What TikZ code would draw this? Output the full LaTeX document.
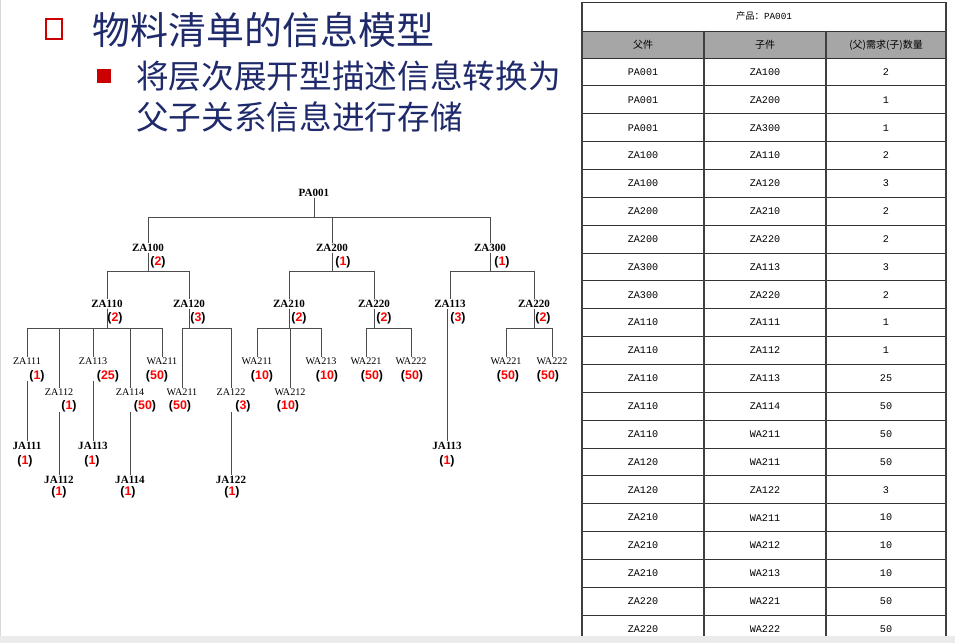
\documentclass[tikz,border=0pt]{standalone}
\usepackage{fontspec}
\setmainfont{Liberation Serif}
\setsansfont{Liberation Sans}
\setmonofont{Liberation Mono}
\newfontfamily\cjk{Noto Sans CJK SC}
\definecolor{navy}{HTML}{1F2A6B}
\definecolor{bomred}{HTML}{CC0000}
\definecolor{hdrgray}{HTML}{A6A6A6}
\begin{document}
\begin{tikzpicture}[x=0.75pt,y=-0.75pt,
			part/.style={font=\bfseries\fontsize{8.3}{9}\selectfont,inner sep=0.5pt},
			leaf/.style={font=\fontsize{7.6}{8}\selectfont,inner sep=0.5pt},
			qty/.style={font=\sffamily\bfseries\fontsize{9.3}{10}\selectfont,inner sep=0.5pt},
			link/.style={draw=black!70,line width=0.6pt},
			cell/.style={font=\ttfamily\fontsize{7.6}{8}\selectfont},
			inner sep=0pt]
			\useasboundingbox (0,0) rectangle (955,643);
			\fill[black!8] (0,636) rectangle (955,643);
			\draw[black!15] (0.5,0) -- (0.5,636);
			% title
			\draw[bomred,line width=1.6pt] (46,19) rectangle (62,39);
			\node[anchor=west,text=navy,font=\cjk\fontsize{28.5}{30}\selectfont] (title) at (92,30) {物料清单的信息模型};
			\fill[bomred] (97,69) rectangle (111,83);
			\node[anchor=north west,text=navy,align=left,font=\cjk\fontsize{24.5}{31}\selectfont] (sub) at (136,60) {将层次展开型描述信息转换为\\父子关系信息进行存储};
			% tree
			\newcommand{\q}[1]{(\textcolor{red}{#1})}
			\node[part] (pa) at (314,193) {PA001};
			\node[part] (za100) at (148,248) {ZA100};\node[qty] at (158,262) {\q{2}};
			\node[part] (za200) at (332,248) {ZA200};\node[qty] at (343,262) {\q{1}};
			\node[part] (za300) at (490,248) {ZA300};\node[qty] at (502,262) {\q{1}};
			\foreach \c in {za100,za200,za300} \draw[link] (pa.south) -- ++(0,20) -| (\c.north);
			\node[part] (za110) at (107,304) {ZA110};\node[qty] at (115,318) {\q{2}};
			\node[part] (za120) at (189,304) {ZA120};\node[qty] at (198,318) {\q{3}};
			\node[part] (za210) at (289,304) {ZA210};\node[qty] at (299,318) {\q{2}};
			\node[part] (za220) at (374,304) {ZA220};\node[qty] at (384,318) {\q{2}};
			\node[part] (zb113) at (450,304) {ZA113};\node[qty] at (458,318) {\q{3}};
			\node[part] (zb220) at (534,304) {ZA220};\node[qty] at (543,318) {\q{2}};
			\foreach \p/\c in {za100/za110,za100/za120,za200/za210,za200/za220,za300/zb113,za300/zb220}
				\draw[link] (\p.south) -- ++(0,19) -| (\c.north);
			% third level
			\node[leaf] (za111) at (27,361) {ZA111};\node[qty] at (37,376) {\q{1}};
			\node[leaf] (za112) at (59,392) {ZA112};\node[qty] at (69,406) {\q{1}};
			\node[leaf] (za113) at (93,361) {ZA113};\node[qty] at (108,376) {\q{25}};
			\node[leaf] (za114) at (130,392) {ZA114};\node[qty] at (145,406) {\q{50}};
			\node[leaf] (wa211) at (162,361) {WA211};\node[qty] at (157,376) {\q{50}};
			\node[leaf] (wb211) at (182,392) {WA211};\node[qty] at (180,406) {\q{50}};
			\node[leaf] (za122) at (231,392) {ZA122};\node[qty] at (243,406) {\q{3}};
			\node[leaf] (wc211) at (257,361) {WA211};\node[qty] at (262,376) {\q{10}};
			\node[leaf] (wc212) at (290,392) {WA212};\node[qty] at (288,406) {\q{10}};
			\node[leaf] (wc213) at (321,361) {WA213};\node[qty] at (327,376) {\q{10}};
			\node[leaf] (wd221) at (366,361) {WA221};\node[qty] at (372,376) {\q{50}};
			\node[leaf] (wd222) at (411,361) {WA222};\node[qty] at (412,376) {\q{50}};
			\node[leaf] (we221) at (506,361) {WA221};\node[qty] at (508,376) {\q{50}};
			\node[leaf] (we222) at (552,361) {WA222};\node[qty] at (548,376) {\q{50}};
			\foreach \c in {za111,za112,za113,za114,wa211}
				\draw[link] (za110.south) -- ++(0,20) -| (\c.north);
			\foreach \c in {wb211,za122}
				\draw[link] (za120.south) -- ++(0,20) -| (\c.north);
			\foreach \c in {wc211,wc212,wc213}
				\draw[link] (za210.south) -- ++(0,20) -| (\c.north);
			\foreach \c in {wd221,wd222}
				\draw[link] (za220.south) -- ++(0,20) -| (\c.north);
			\foreach \c in {we221,we222}
				\draw[link] (zb220.south) -- ++(0,20) -| (\c.north);
			% fourth level
			\node[part] (ja111) at (27,446) {JA111};\node[qty] at (25,461) {\q{1}};
			\node[part] (ja112) at (59,480) {JA112};\node[qty] at (59,492) {\q{1}};
			\node[part] (ja113) at (93,446) {JA113};\node[qty] at (92,461) {\q{1}};
			\node[part] (ja114) at (130,480) {JA114};\node[qty] at (128,492) {\q{1}};
			\node[part] (ja122) at (231,480) {JA122};\node[qty] at (232,492) {\q{1}};
			\node[part] (jb113) at (447,446) {JA113};\node[qty] at (447,461) {\q{1}};
			\foreach \p/\c in {za111/ja111,za112/ja112,za113/ja113,za114/ja114,za122/ja122}
				\draw[link] ([yshift=-12pt]\p.south) -- (\p.south |- \c.north);
			\draw[link] (jb113.north) -- (jb113.north |- zb113.south);
			% table
			\fill[hdrgray] (582,31) rectangle (946,58);
			\node[font=\cjk\fontsize{7}{8}\selectfont] (thead) at (764,16) {产品：\texttt{PA001}};
			\node[font=\cjk\fontsize{7.5}{8}\selectfont] (h1) at (643,45) {父件};
			\node[font=\cjk\fontsize{7.5}{8}\selectfont] (h2) at (765,45) {子件};
			\node[font=\cjk\fontsize{7.5}{8}\selectfont] (h3) at (886,45) {(父)需求(子)数量};
			\foreach \a/\b/\n [count=\i from 0] in {PA001/ZA100/2,PA001/ZA200/1,PA001/ZA300/1,ZA100/ZA110/2,ZA100/ZA120/3,ZA200/ZA210/2,ZA200/ZA220/2,ZA300/ZA113/3,ZA300/ZA220/2,ZA110/ZA111/1,ZA110/ZA112/1,ZA110/ZA113/25,ZA110/ZA114/50,ZA110/WA211/50,ZA120/WA211/50,ZA120/ZA122/3,ZA210/WA211/10,ZA210/WA212/10,ZA210/WA213/10,ZA220/WA221/50,ZA220/WA222/50}{
				\node[cell] (ra\i) at (643,72+27.85*\i) {\a};
				\node[cell] (rb\i) at (765,72+27.85*\i) {\b};
				\node[cell] (rc\i) at (886,72+27.85*\i) {\n};
				\draw[black!80,line width=0.6pt] (582,58+27.85*\i) -- (946,58+27.85*\i);
			}
			\draw[black!80,line width=0.6pt] (582,2) -- (946,2) (582,31) -- (946,31);
			\foreach \x in {704,826} \draw[black!75,line width=0.8pt] (\x,31) -- (\x,636);
			\foreach \x in {582,946} \draw[black!75,line width=1.2pt] (\x,2) -- (\x,636);
		\end{tikzpicture}
\end{document}
